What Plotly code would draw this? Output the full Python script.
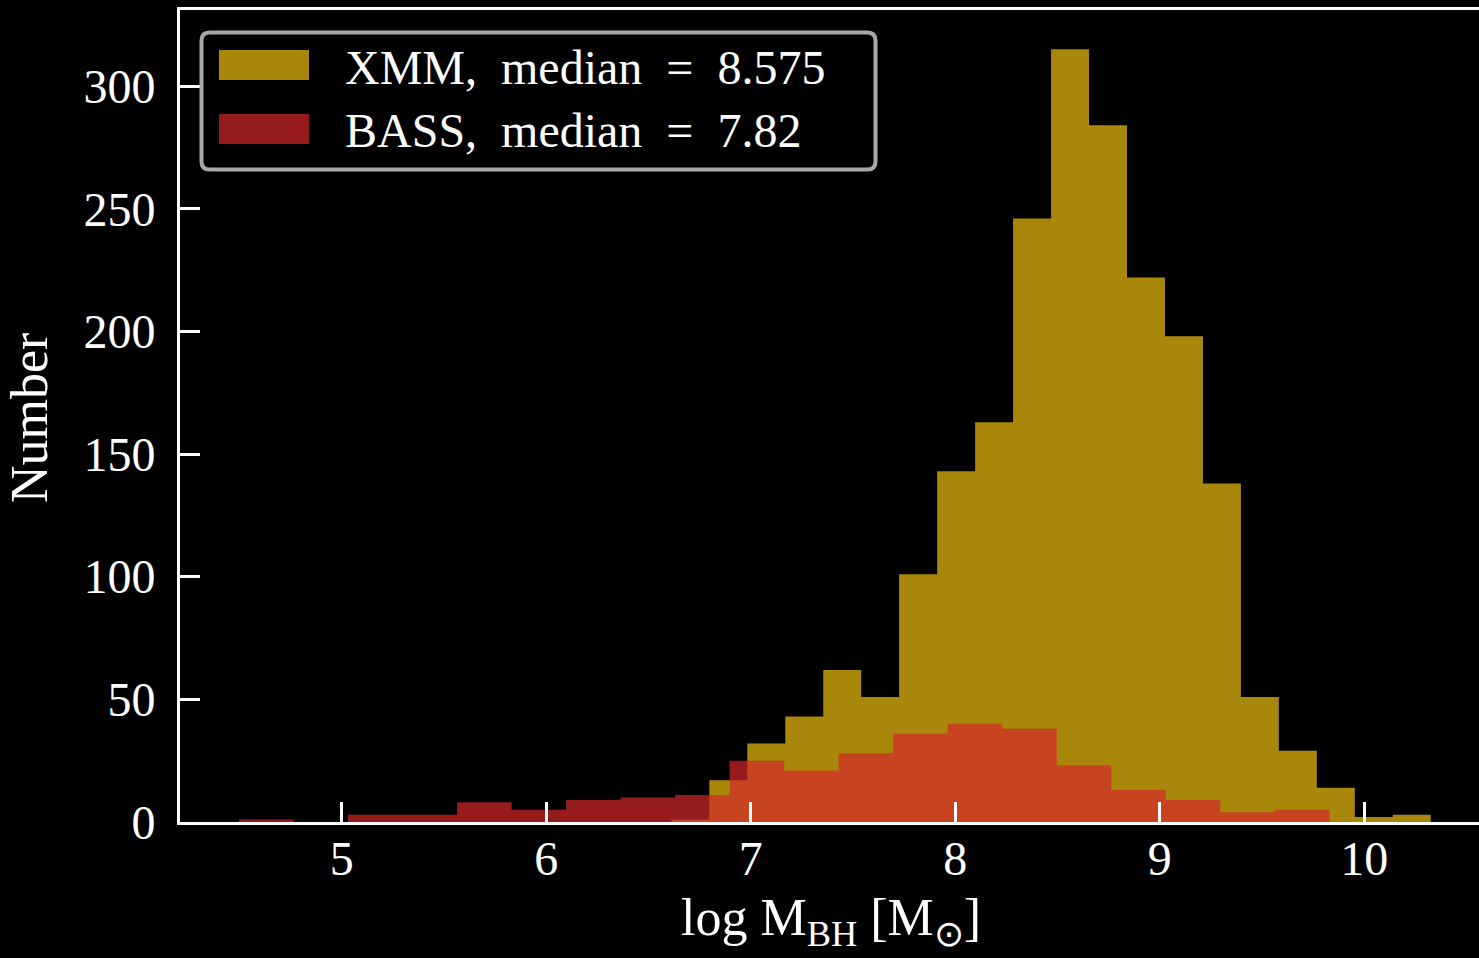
import numpy as np
import plotly.graph_objects as go

# ---------------- data ----------------
xmm_counts = [1, 17, 32, 43, 62, 51, 101, 143, 163, 246, 315, 284, 222, 198, 138, 51, 29, 14, 2, 3]
xmm_range = [6.612, 10.325]          # first / last bin edge, 20 bins
bass_counts = [1, 0, 3, 3, 8, 5, 9, 10, 11, 25, 21, 28, 36, 40, 38, 23, 13, 9, 4, 5]
bass_range = [4.498, 9.829]          # first / last bin edge, 20 bins
xmm_label = "XMM,\u2002median\u2002=\u20028.575"
bass_label = "BASS,\u2002median\u2002=\u20027.82"
x_ticks = [5, 6, 7, 8, 9, 10]
y_ticks = [0, 50, 100, 150, 200, 250, 300]

# ---------------- style ----------------
W, H = 1479, 958
ML, MR, MT, MB = 180, 0, 10, 136
PW, PH = W - ML - MR, H - MT - MB
FONT = "Liberation Serif"
XMM_COL = "rgba(240,193,14,0.7)"
BASS_COL = "rgba(214,39,40,0.7)"


def px(xp):
    return (xp - ML) / PW


def py(yp):
    return (H - MB - yp) / PH


def step_xy(rng, counts):
    edges = np.linspace(rng[0], rng[1], len(counts) + 1)
    ys = list(counts) + [counts[-1]]
    return edges, ys


fig = go.Figure()
for rng, counts, col, name in [(xmm_range, xmm_counts, XMM_COL, xmm_label),
                               (bass_range, bass_counts, BASS_COL, bass_label)]:
    ex, ey = step_xy(rng, counts)
    fig.add_trace(go.Scatter(
        x=ex, y=ey, mode="lines", line=dict(shape="hv", width=0, color=col),
        fill="tozeroy", fillcolor=col, name=name, showlegend=False,
        hoverinfo="skip"))

axis_common = dict(
    showgrid=False, zeroline=False, showline=True, linecolor="white", linewidth=3,
    ticks="inside", ticklen=20, tickwidth=3, tickcolor="white",
    tickfont=dict(family=FONT, size=48, color="white"), automargin=False,
)
fig.update_xaxes(range=[4.2093, 10.561], tickvals=x_ticks, mirror=True,
                 ticklabelstandoff=-8, **axis_common)
fig.update_yaxes(range=[0, 331], tickvals=y_ticks, mirror=False,
                 ticklabelstandoff=12, **axis_common)

# custom legend (frame, patches, labels)
x0, x1, y0, y1 = px(201.5), px(875.5), py(169.5), py(32.5)
rx, ry = 8 / PW, 8 / PH
path = (f"M {x0+rx},{y1} L {x1-rx},{y1} Q {x1},{y1} {x1},{y1-ry} "
        f"L {x1},{y0+ry} Q {x1},{y0} {x1-rx},{y0} L {x0+rx},{y0} "
        f"Q {x0},{y0} {x0},{y0+ry} L {x0},{y1-ry} Q {x0},{y1} {x0+rx},{y1} Z")
shapes = [dict(type="path", xref="paper", yref="paper", path=path,
               line=dict(color="#a8a8a8", width=4), fillcolor="black", layer="above")]
annotations = []
for (top, col, label) in [(50, XMM_COL, xmm_label), (114, BASS_COL, bass_label)]:
    shapes.append(dict(type="rect", xref="paper", yref="paper",
                       x0=px(219), x1=px(309), y0=py(top + 30), y1=py(top),
                       fillcolor=col, line=dict(width=0), layer="above"))
    annotations.append(dict(xref="paper", yref="paper", x=px(343), y=py(top + 17),
                            xanchor="left", yanchor="middle", showarrow=False,
                            text=label, font=dict(family=FONT, size=48, color="white")))

annotations.append(dict(xref="paper", yref="paper", x=px(29), y=py(418),
                        xanchor="center", yanchor="middle", showarrow=False,
                        textangle=-90, text="Number",
                        font=dict(family=FONT, size=52, color="white")))
annotations.append(dict(xref="paper", yref="paper", x=px(831), y=py(921),
                        xanchor="center", yanchor="middle", showarrow=False,
                        text="log M<sub>BH</sub> [M<sub>⊙</sub>]",
                        font=dict(family=FONT, size=52, color="white")))

fig.update_layout(
    width=W, height=H, margin=dict(l=ML, r=MR, t=MT, b=MB, pad=0),
    paper_bgcolor="black", plot_bgcolor="black", showlegend=False,
    shapes=shapes, annotations=annotations,
)

fig.write_html("out.html")
